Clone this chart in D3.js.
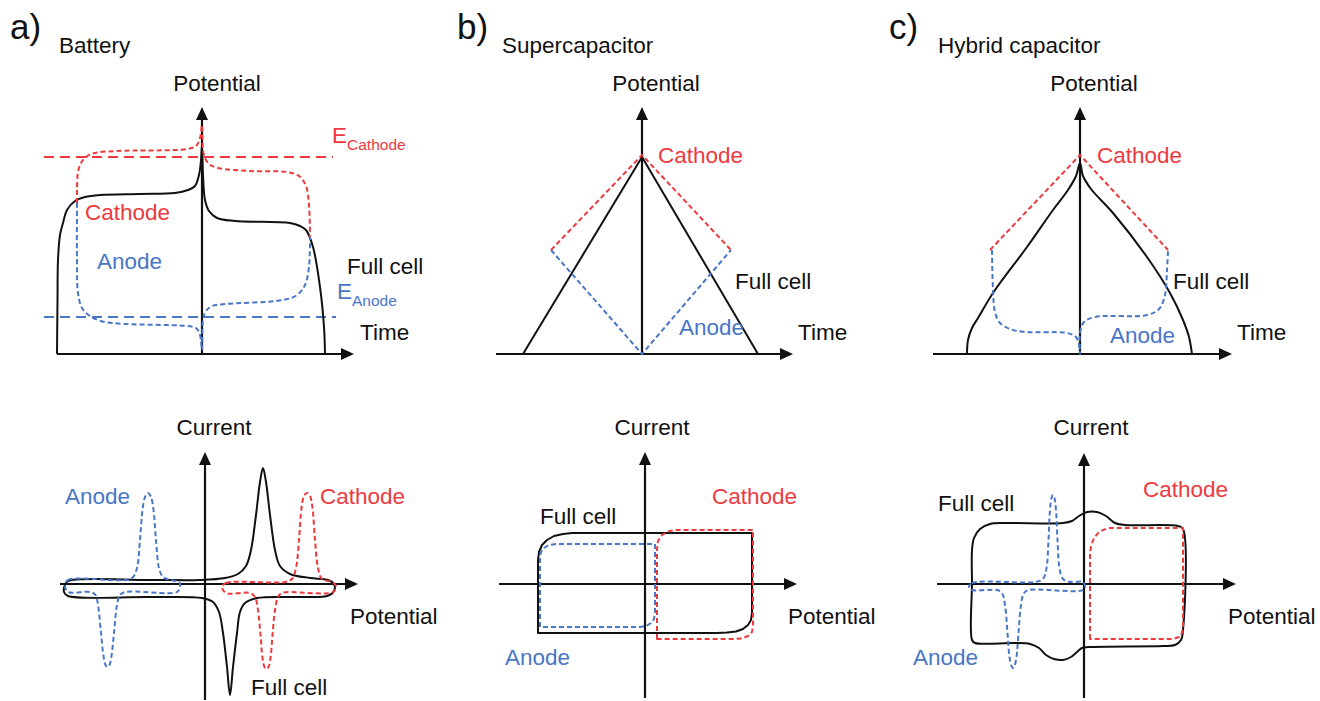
<!DOCTYPE html>
<html>
<head>
<meta charset="utf-8">
<script src="https://cdn.jsdelivr.net/npm/d3@7/dist/d3.min.js"></script>
<style>
  html, body { margin: 0; padding: 0; background: #fff; }
  svg { display: block; font-family: 'Liberation Sans', Arial, Helvetica, sans-serif; }
</style>
</head>
<body>
<div class="chart"></div>
<script>
// ---- data (panel units: 1 unit ~ 10 px, origin at the axis crossing) ----
const panelLetters = ['a)', 'b)', 'c)'];
const panelTitles = ['Battery', 'Supercapacitor', 'Hybrid capacitor'];

// a) battery, galvanostatic charge/discharge
const batFull = [[-14.5,0],[-14.45,5.4],[-14.4,9.4],[-14.2,11.9],[-13.9,13.1],[-13.5,14.4],[-12.7,15.3],[-11.7,15.7],
  [-10.2,15.9],[-6.2,16.0],[-2.7,16.1],[-1.4,16.4],[-0.7,16.8],[-0.3,17.9],[-0.1,19.4],[0,20.9],
  [0.1,17.9],[0.3,15.4],[0.7,14.3],[1.5,13.6],[3.3,13.3],[8.8,13.1],[9.8,12.8],[10.4,12.4],[11.1,10.7],
  [11.8,6.7],[12.2,2.7],[12.3,0]];
const batCathode = [[-12.5,15.1],[-12.5,16.4],[-12.4,18.2],[-12.1,19.1],[-11.6,19.7],[-10.7,20.1],[-8.5,20.3],
  [-1.5,20.5],[-0.6,20.8],[-0.2,21.6],[0,22.9],[0.1,20.4],[0.3,19.6],[0.7,19.0],[1.6,18.6],[4.8,18.3],
  [8.5,18.2],[9.7,17.8],[10.4,16.8],[10.7,14.9],[10.8,11.7]];
const batAnode = [[-12.5,15.1],[-12.5,9.4],[-12.4,6.1],[-12.0,4.6],[-11.2,3.8],[-9.7,3.2],[-1.5,2.8],[-0.6,2.6],
  [-0.2,1.9],[0,0.4],[0.1,3.4],[0.4,4.3],[1.0,4.8],[2.3,5.0],[8.1,5.4],[9.5,5.9],[10.3,6.9],[10.7,8.7],[10.8,11.7]];
const eCathode = [[-15.8,19.7],[13.1,19.7]];
const eAnode = [[-15.8,3.7],[13.4,3.7]];

// b) supercapacitor, charge/discharge
const scFull = [[-11.9,0],[0,19.7],[11.6,0]];
const scCathode = [[-9.1,10.4],[0,19.9],[8.9,10.4]];
const scAnode = [[-9.1,10.4],[0,0],[8.9,10.4]];

// c) hybrid capacitor, charge/discharge
const hyFull = [[-11.3,0],[-11.2,1.4],[-10.8,2.6],[-10.2,3.6],[-8.7,6.1],[-5.3,10.7],[-2.7,14.4],[-1.2,16.4],
  [-0.4,17.8],[0,19.1],[0.3,17.8],[1.1,16.5],[3.3,14.1],[6.7,9.7],[9.0,6.1],[10.3,3.4],[10.9,1.7],[11.2,0]];
const hyCathode = [[-9.0,10.4],[0,19.9],[8.8,10.4]];
const hyAnode = [[-8.8,10.4],[-8.7,6.4],[-8.5,4.2],[-8.0,3.1],[-7.0,2.5],[-5.5,2.2],[-1.3,2.1],[-0.4,1.7],
  [-0.1,0.9],[0,0],[0,2.1],[0.4,3.2],[1.5,3.7],[6.7,3.9],[7.9,4.5],[8.5,5.9],[8.7,8.4],[8.8,10.4]];

// a) battery, cyclic voltammetry
const batCvFull = [[-14.0,-0.1],[-13.7,0.3],[-5.5,0.4],[-0.5,0.4],[2.0,0.6],[3.3,1.0],[4.1,1.8],[4.6,3.4],
  [5.1,6.9],[5.5,10.2],[5.8,11.6],[6.1,10.2],[6.5,6.9],[7.0,3.4],[7.5,1.8],[8.5,1.0],[10.5,0.6],[12.3,0.4],
  [12.9,0],[12.9,-0.7],[12.2,-1.2],[9.5,-1.3],[5.2,-1.4],[4.0,-1.9],[3.5,-2.8],[3.2,-4.9],[2.8,-8.3],
  [2.5,-11.1],[2.2,-8.3],[1.8,-4.9],[1.4,-2.8],[0.8,-1.8],[-0.3,-1.4],[-5.5,-1.3],[-13.7,-1.2],[-14.1,-0.8]];
const batCvAnode = [[-14.0,-0.2],[-13.7,0.4],[-8.0,0.4],[-7.2,0.7],[-6.8,1.6],[-6.5,4.4],[-6.25,7.4],[-6.0,8.7],
  [-5.7,9.1],[-5.4,8.7],[-5.15,7.4],[-4.9,4.4],[-4.6,1.6],[-4.2,0.7],[-3.5,0.4],[-2.6,0.2],[-2.5,-0.3],[-2.8,-0.8],
  [-8.0,-0.8],[-8.5,-1.1],[-8.8,-2.1],[-9.1,-4.9],[-9.35,-7.2],[-9.55,-8.1],[-9.75,-8.3],[-9.95,-8.1],
  [-10.15,-7.2],[-10.4,-4.9],[-10.7,-2.1],[-10.95,-1.1],[-11.5,-0.8],[-13.7,-0.8]];
const batCvCathode = [[1.7,-0.3],[2.1,0.1],[8.0,0.2],[8.7,0.5],[9.1,1.6],[9.4,4.4],[9.65,7.6],[9.9,8.8],
  [10.2,9.1],[10.5,8.8],[10.75,7.6],[11.0,4.4],[11.3,1.6],[11.7,0.5],[12.7,0.2],[13.1,-0.2],[12.8,-0.8],
  [7.7,-0.9],[7.3,-1.3],[7.0,-2.6],[6.75,-5.1],[6.55,-7.4],[6.35,-8.3],[6.15,-8.5],[5.95,-8.3],[5.75,-7.4],
  [5.55,-5.1],[5.3,-2.6],[5.0,-1.3],[4.5,-0.9],[2.1,-0.9]];

// b) supercapacitor, cyclic voltammetry
const scCvFull = [[-10.7,-4.9],[-10.7,2.4],[-10.6,3.2],[-10.3,3.9],[-9.8,4.4],[-9.1,4.8],[-8.2,5.0],[-7.3,5.1],
  [10.7,5.1],[10.7,-2.9],[10.6,-3.6],[10.3,-4.1],[9.8,-4.5],[9.1,-4.75],[8.2,-4.85],[7.2,-4.9]];
const scCvAnode = [[-10.5,-4.3],[-10.5,2.6],[-10.4,3.2],[-10.1,3.6],[-9.6,3.9],[-8.9,4.0],[1.0,4.0],[1.0,-2.8],
  [0.9,-3.5],[0.6,-3.9],[0.1,-4.2],[-0.5,-4.3]];
const scCvCathode = [[1.2,-5.5],[1.2,3.5],[1.3,4.3],[1.7,4.9],[2.3,5.25],[3.0,5.4],[10.8,5.4],[10.8,-4.2],
  [10.7,-4.8],[10.3,-5.2],[9.7,-5.45],[8.8,-5.5]];

// c) hybrid capacitor, cyclic voltammetry
const hyCvFull = [[-11.2,0.1],[-11.2,3.4],[-11.0,4.6],[-10.4,5.5],[-9.4,6.0],[-7.9,6.1],[-2.1,6.1],[-1.2,6.3],
  [-0.5,6.8],[0.3,7.2],[1.3,7.2],[2.2,6.8],[3.1,6.1],[4.1,5.9],[9.4,5.8],[9.9,5.5],[9.9,-4.6],[9.7,-5.6],
  [9.1,-6.1],[7.9,-6.2],[0.4,-6.3],[-0.2,-6.4],[-0.7,-6.8],[-1.3,-7.3],[-2.1,-7.6],[-3.0,-7.5],[-3.8,-7.1],
  [-4.5,-6.4],[-5.4,-6.0],[-6.9,-5.9],[-10.9,-5.9],[-11.2,-5.6]];
const hyCvAnode = [[-11.5,-0.3],[-11.2,0.1],[-4.9,0.2],[-4.1,0.5],[-3.75,1.6],[-3.55,4.4],[-3.4,7.4],[-3.25,8.6],
  [-3.1,8.9],[-2.95,8.6],[-2.8,7.4],[-2.65,4.4],[-2.45,1.6],[-2.1,0.5],[-1.3,0.2],[-0.1,0.2],[0.1,-0.2],[-0.1,-0.6],
  [-5.5,-0.6],[-6.0,-0.9],[-6.3,-2.1],[-6.55,-4.9],[-6.75,-7.3],[-6.95,-8.2],[-7.1,-8.4],[-7.25,-8.2],[-7.45,-7.3],
  [-7.65,-4.9],[-7.9,-2.1],[-8.2,-0.9],[-8.7,-0.6],[-11.2,-0.6]];
const hyCvCathode = [[0.6,-5.5],[0.6,2.9],[0.7,3.8],[1.0,4.6],[1.5,5.2],[2.4,5.6],[9.9,5.6],[9.9,-4.4],
  [9.8,-4.9],[9.5,-5.3],[8.9,-5.5]];

// ---- style ----
const RED = '#ec3a3f', BLUE = '#4a76c6', INK = '#111';
const LABEL = 22.5;
const W = 1320, H = 701, UNIT = 10;

const svg = d3.select('.chart').append('svg')
  .attr('width', W).attr('height', H);

svg.append('defs').append('marker')
  .attr('id', 'arrow')
  .attr('viewBox', '0 0 13 12')
  .attr('markerUnits', 'userSpaceOnUse')
  .attr('markerWidth', 13).attr('markerHeight', 12)
  .attr('refX', 5).attr('refY', 6)
  .attr('orient', 'auto')
  .append('path').attr('d', 'M0,0 L13,6 L0,12 Z').attr('fill', INK);

const curves = {
  smooth: d3.curveCatmullRom.alpha(0.5),
  loop: d3.curveCatmullRomClosed.alpha(0.5),
  poly: d3.curveLinear,
  box: d3.curveLinearClosed
};

const panels = [
  {ox: 202, oy: 354, x: [-14.5, 15.2], y: [0, 24.7], series: [
    {d: batFull, c: INK, k: 'smooth'}, {d: batCathode, c: RED, k: 'smooth', dash: '5,3'},
    {d: batAnode, c: BLUE, k: 'smooth', dash: '5,3'}]},
  {ox: 642, oy: 354, x: [-14.6, 15.1], y: [0, 24.7], series: [
    {d: scFull, c: INK, k: 'poly'}, {d: scCathode, c: RED, k: 'poly', dash: '5,3'},
    {d: scAnode, c: BLUE, k: 'poly', dash: '5,3'}]},
  {ox: 1080, oy: 354, x: [-14.7, 15.2], y: [0, 24.7], series: [
    {d: hyFull, c: INK, k: 'smooth'}, {d: hyCathode, c: RED, k: 'poly', dash: '5,3'},
    {d: hyAnode, c: BLUE, k: 'smooth', dash: '5,3'}]},
  {ox: 205, oy: 584, x: [-14.5, 15.3], y: [-11.6, 13.2], series: [
    {d: batCvFull, c: INK, k: 'loop'}, {d: batCvAnode, c: BLUE, k: 'loop', dash: '5,3'},
    {d: batCvCathode, c: RED, k: 'loop', dash: '5,3'}]},
  {ox: 645, oy: 584, x: [-14.6, 15.2], y: [-11.4, 13.2], series: [
    {d: scCvFull, c: INK, k: 'box'}, {d: scCvAnode, c: BLUE, k: 'box', dash: '5,3'},
    {d: scCvCathode, c: RED, k: 'box', dash: '5,3'}]},
  {ox: 1084, oy: 584, x: [-14.7, 15.2], y: [-11.4, 13.1], series: [
    {d: hyCvFull, c: INK, k: 'loop'}, {d: hyCvAnode, c: BLUE, k: 'loop', dash: '5,3'},
    {d: hyCvCathode, c: RED, k: 'box', dash: '5,3'}]}
];

panels.forEach((p, i) => {
  const xScale = d3.scaleLinear().domain(p.x)
    .range([p.ox + p.x[0] * UNIT, p.ox + p.x[1] * UNIT]);
  const yScale = d3.scaleLinear().domain(p.y)
    .range([p.oy - p.y[0] * UNIT, p.oy - p.y[1] * UNIT]);

  const g = svg.append('g').attr('class', 'panel-' + i);

  // axes with arrow heads
  g.append('line')
    .attr('x1', xScale(p.x[0])).attr('y1', yScale(0))
    .attr('x2', xScale(p.x[1]) - 8).attr('y2', yScale(0))
    .attr('stroke', INK).attr('stroke-width', 2.2)
    .attr('marker-end', 'url(#arrow)');
  g.append('line')
    .attr('x1', xScale(0)).attr('y1', yScale(p.y[0]))
    .attr('x2', xScale(0)).attr('y2', yScale(p.y[1]) + 8)
    .attr('stroke', INK).attr('stroke-width', 2.2)
    .attr('marker-end', 'url(#arrow)');

  const line = d3.line().x(d => xScale(d[0])).y(d => yScale(d[1]));

  if (i === 0) {
    [[eCathode, RED], [eAnode, BLUE]].forEach(([d, c]) => {
      g.append('path')
        .attr('d', line.curve(d3.curveLinear)(d))
        .attr('fill', 'none').attr('stroke', c)
        .attr('stroke-width', 2).attr('stroke-dasharray', '10,6');
    });
  }

  g.selectAll('path.curve')
    .data(p.series)
    .enter()
    .append('path')
    .attr('class', 'curve')
    .attr('d', s => line.curve(curves[s.k])(s.d))
    .attr('fill', 'none')
    .attr('stroke', s => s.c)
    .attr('stroke-width', 2)
    .attr('stroke-linejoin', 'round')
    .attr('stroke-dasharray', s => s.dash || null);
});

// ---- text ----
const heads = [[10, 457, 889], [59, 502, 938]];
panelLetters.forEach((t, i) => {
  svg.append('text').attr('x', heads[0][i]).attr('y', 39)
    .attr('font-size', 35).attr('fill', INK).text(t);
  svg.append('text').attr('x', heads[1][i]).attr('y', 53)
    .attr('font-size', 22.5).attr('fill', INK).text(panelTitles[i]);
});

const labels = [
  // top row
  ['Potential', 217, 91, INK, 'middle'], ['Potential', 656, 91, INK, 'middle'], ['Potential', 1094, 91, INK, 'middle'],
  ['Cathode', 85, 220, RED], ['Anode', 97, 269, BLUE], ['Full cell', 347, 274, INK], ['Time', 360, 340, INK],
  ['Cathode', 658, 163, RED], ['Full cell', 735, 289, INK], ['Anode', 679, 335, BLUE], ['Time', 798, 340, INK],
  ['Cathode', 1097, 163, RED], ['Full cell', 1173, 289, INK], ['Anode', 1110, 343, BLUE], ['Time', 1237, 340, INK],
  // bottom row
  ['Current', 214, 435, INK, 'middle'], ['Current', 652, 435, INK, 'middle'], ['Current', 1091, 435, INK, 'middle'],
  ['Anode', 65, 504, BLUE], ['Cathode', 320, 504, RED], ['Potential', 350, 624, INK], ['Full cell', 251, 695, INK],
  ['Cathode', 712, 504, RED], ['Full cell', 540, 524, INK], ['Anode', 505, 665, BLUE], ['Potential', 788, 624, INK],
  ['Cathode', 1143, 497, RED], ['Full cell', 938, 511, INK], ['Anode', 913, 665, BLUE], ['Potential', 1228, 624, INK]
];

svg.selectAll('text.label')
  .data(labels)
  .enter()
  .append('text')
  .attr('class', 'label')
  .attr('x', d => d[1]).attr('y', d => d[2])
  .attr('fill', d => d[3])
  .attr('text-anchor', d => d[4] || 'start')
  .attr('font-size', LABEL)
  .text(d => d[0]);

// electrode potential labels with subscripts
[['Cathode', 332, 143, RED], ['Anode', 337, 299, BLUE]].forEach(([sub, x, y, c]) => {
  const t = svg.append('text').attr('x', x).attr('y', y).attr('fill', c).attr('font-size', LABEL);
  t.append('tspan').text('E');
  t.append('tspan').attr('font-size', 15.5).attr('dy', 7).text(sub);
});
</script>
</body>
</html>
